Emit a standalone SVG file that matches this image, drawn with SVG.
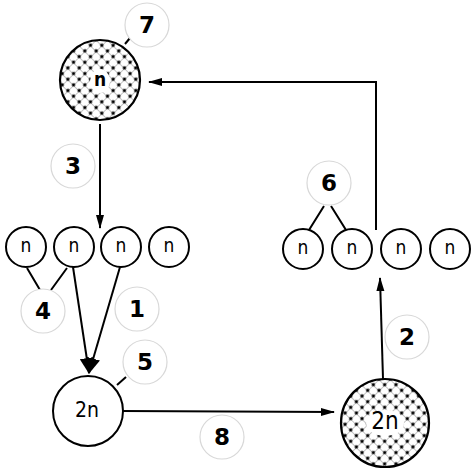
<svg xmlns="http://www.w3.org/2000/svg" width="476" height="474" viewBox="0 0 476 474">
<style>
.node{fill:#fff;stroke:#000;stroke-width:2}
.dot{fill:url(#dots);stroke:#000;stroke-width:2.2}
.clr{fill:#fff;stroke:none}
.lbl{fill:#fff;stroke:#d8d8d8;stroke-width:1.2}
.lt{font-family:"DejaVu Sans",sans-serif;font-size:23px;font-weight:bold;fill:#000;text-anchor:middle;dominant-baseline:central}
.nt{font-family:"DejaVu Sans Condensed","DejaVu Sans",sans-serif;font-size:19px;fill:#000;text-anchor:middle;dominant-baseline:central}
.ln{stroke:#000;stroke-width:2;fill:none}
.tk{stroke:#000;stroke-width:2;fill:none}
</style>
<defs>
<pattern id="dots" width="8" height="8" patternUnits="userSpaceOnUse" patternTransform="rotate(45)">
<rect width="8" height="8" fill="#fff"/>
<path d="M0 0H8M0 0V8" stroke="#888" stroke-width="1"/>
<circle cx="0" cy="0" r="1.7" fill="#000"/>
<circle cx="8" cy="0" r="1.7" fill="#000"/>
<circle cx="0" cy="8" r="1.7" fill="#000"/>
<circle cx="8" cy="8" r="1.7" fill="#000"/>
</pattern>
<marker id="ah" markerWidth="14" markerHeight="10" refX="13" refY="5" orient="auto" markerUnits="userSpaceOnUse">
<path d="M0 1L14 5L0 9Z" fill="#000"/>
</marker>
<marker id="ahb" markerWidth="16" markerHeight="14" refX="15" refY="7" orient="auto" markerUnits="userSpaceOnUse">
<path d="M0 0L16 7L0 14Z" fill="#000"/>
</marker>
</defs>
<g id="connectors">
<path class="ln" d="M376 230V82H149" marker-end="url(#ah)"/>
<path class="ln" d="M100 124V228" marker-end="url(#ah)"/>
<path class="ln" d="M73 267L89 373" marker-end="url(#ahb)"/>
<path class="ln" d="M120 267L89 373" marker-end="url(#ahb)"/>
<path class="ln" d="M122 411L334 412" marker-end="url(#ah)"/>
<path class="ln" d="M383 379L380 278" marker-end="url(#ah)"/>
<path class="tk" d="M27 268L40 290M51 290L67 268"/>
<path class="tk" d="M324 206L309 230M331 206L346 230"/>
<path class="tk" d="M125 44L130 38"/>
<path class="tk" d="M117 385L126 377"/>
</g>
<g id="n7"><circle class="dot" cx="100" cy="80" r="40"/><ellipse class="clr" cx="100" cy="81" rx="10" ry="12"/><text class="nt" x="100" y="79" style="font-weight:bold">n</text></g>
<g id="nL1"><circle class="node" cx="26" cy="247" r="20"/><text class="nt" x="26" y="245">n</text></g>
<g id="nL2"><circle class="node" cx="74" cy="247" r="20"/><text class="nt" x="74" y="245">n</text></g>
<g id="nL3"><circle class="node" cx="121" cy="247" r="20"/><text class="nt" x="121" y="245">n</text></g>
<g id="nL4"><circle class="node" cx="169" cy="247" r="20"/><text class="nt" x="169" y="245">n</text></g>
<g id="nR1"><circle class="node" cx="303" cy="249" r="20"/><text class="nt" x="303" y="247">n</text></g>
<g id="nR2"><circle class="node" cx="352" cy="249" r="20"/><text class="nt" x="352" y="247">n</text></g>
<g id="nR3"><circle class="node" cx="401" cy="249" r="20"/><text class="nt" x="401" y="247">n</text></g>
<g id="nR4"><circle class="node" cx="450" cy="249" r="20"/><text class="nt" x="450" y="247">n</text></g>
<g id="n2nL"><circle class="node" cx="88" cy="411" r="35"/><text class="nt" x="87" y="410" style="font-size:21px">2n</text></g>
<g id="n2nR"><circle class="dot" cx="385" cy="423" r="44"/><ellipse class="clr" cx="385" cy="423" rx="19" ry="13"/><text class="nt" x="385" y="421" style="font-size:24px">2n</text></g>
<g id="l7"><circle class="lbl" cx="147" cy="25" r="22"/><text class="lt" x="147" y="25">7</text></g>
<g id="l3"><circle class="lbl" cx="73" cy="166" r="22"/><text class="lt" x="73" y="166">3</text></g>
<g id="l6"><circle class="lbl" cx="329" cy="183" r="22"/><text class="lt" x="329" y="183">6</text></g>
<g id="l4"><circle class="lbl" cx="43" cy="311" r="22"/><text class="lt" x="43" y="311">4</text></g>
<g id="l1"><circle class="lbl" cx="137" cy="309" r="22"/><text class="lt" x="137" y="309">1</text></g>
<g id="l5"><circle class="lbl" cx="145" cy="362" r="22"/><text class="lt" x="145" y="362">5</text></g>
<g id="l2"><circle class="lbl" cx="407" cy="337" r="22"/><text class="lt" x="407" y="337">2</text></g>
<g id="l8"><circle class="lbl" cx="222" cy="437" r="22"/><text class="lt" x="222" y="437">8</text></g>
</svg>
